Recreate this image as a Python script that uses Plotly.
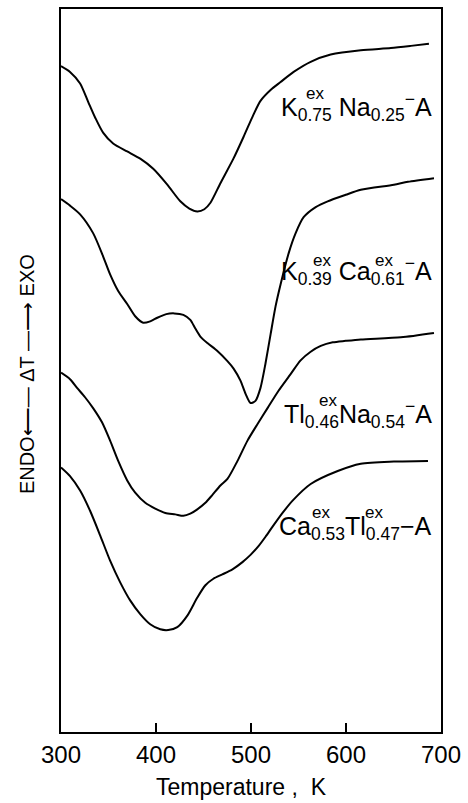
import plotly.graph_objects as go

# DTA traces of ion-exchanged zeolite A samples, temperature in K, ΔT in arbitrary units
t_k_na = [300, 309.5, 320.1, 328.5, 335.9, 344.3, 354.9, 369.7, 383.4, 397.1, 411.9, 425.6,
          435.1, 443.5, 450.9, 457.3, 467.8, 481.5, 492.1, 502.6, 510.0, 520.6, 531.1, 544.9,
          562.8, 583.9, 615.6, 647.2, 668.3, 687.3]
dt_k_na = [92.1, 91.3, 89.7, 87.2, 85.0, 82.9, 81.4, 80.3, 79.3, 77.9, 75.7, 73.4,
           72.4, 72.0, 72.3, 73.2, 75.9, 79.3, 82.3, 85.4, 87.3, 88.8, 89.9, 91.3,
           92.7, 93.7, 94.3, 94.6, 94.9, 95.2]

t_k_ca = [300, 309.5, 320.1, 333.8, 344.3, 351.7, 360.2, 369.7, 378.1, 386.5, 393.9, 401.4,
          410.8, 419.3, 428.8, 436.1, 441.4, 446.7, 454.1, 464.6, 475.2, 481.5, 488.9, 494.2,
          499.5, 504.7, 510.0, 515.3, 520.6, 525.9, 531.1, 539.6, 547.0, 555.4, 568.1, 580.7,
          599.7, 615.6, 650.4, 665.2, 692.6]
dt_k_ca = [73.7, 72.8, 71.6, 69.0, 65.8, 63.3, 61.0, 59.2, 57.5, 56.6, 56.8, 57.3,
           57.8, 57.9, 57.7, 57.0, 55.8, 54.7, 53.8, 52.7, 51.3, 50.3, 48.6, 46.8,
           45.5, 45.8, 47.6, 51.0, 55.0, 58.9, 61.9, 66.2, 69.0, 71.2, 72.6, 73.4,
           74.3, 75.0, 75.7, 76.1, 76.6]

t_tl_na = [300, 309.5, 316.9, 325.3, 333.8, 343.3, 351.7, 360.2, 369.7, 378.1, 388.7, 399.2,
           409.8, 420.3, 428.8, 436.1, 443.5, 452.0, 459.4, 467.8, 475.2, 485.8, 496.3, 506.9,
           517.4, 529.0, 541.7, 552.2, 562.8, 573.4, 586.1, 599.7, 615.6, 657.8, 692.6]
dt_tl_na = [49.7, 48.8, 47.6, 46.3, 44.8, 42.8, 40.3, 37.5, 34.8, 33.1, 31.7, 30.9,
            30.3, 30.1, 29.9, 30.2, 30.8, 31.7, 32.8, 34.1, 35.0, 37.5, 40.3, 42.6,
            44.8, 47.2, 49.5, 51.4, 52.6, 53.4, 53.9, 54.1, 54.3, 54.6, 55.2]

t_ca_tl = [300, 309.5, 320.1, 330.6, 341.2, 351.7, 362.3, 372.8, 383.4, 393.9, 404.5, 412.9,
           422.4, 433.0, 443.5, 452.0, 460.4, 469.9, 480.5, 491.0, 499.5, 507.9, 515.3, 522.7,
           533.2, 543.8, 562.8, 591.3, 615.6, 650.4, 686.3]
dt_ca_tl = [36.6, 35.4, 33.4, 30.6, 27.2, 23.7, 20.7, 18.2, 16.3, 14.9, 14.2, 14.1,
            14.5, 16.1, 18.6, 20.3, 21.2, 21.8, 22.5, 23.5, 24.5, 25.7, 27.0, 28.4,
            30.3, 32.0, 34.3, 36.1, 37.1, 37.4, 37.5]

x_ticks = [300, 400, 500, 600, 700]

# sample labels: (text, x, y) and the "ex" marks written above the exchanged cations
labels = [
    ("K<sub>0.75</sub> Na<sub>0.25</sub><sup>−</sup>A", 692.6, 86.5),
    ("K<sub>0.39</sub> Ca<sub>0.61</sub><sup>−</sup>A", 692.6, 63.7),
    ("Tl<sub>0.46</sub>Na<sub>0.54</sub><sup>−</sup>A", 692.6, 44.0),
    ("Ca<sub>0.53</sub>Tl<sub>0.47</sub>−A", 692.6, 28.2),
]
ex_marks = [(555.4, 88.3), (562.8, 65.2), (628.3, 65.2), (569.1, 45.8),
            (561.7, 30.3), (617.7, 30.3)]

LABEL_FONT = "Liberation Sans Narrow, Liberation Sans, Arial, sans-serif"
AXIS_FONT = "Liberation Sans, Arial, sans-serif"

fig = go.Figure()
for xs, ys in [(t_k_na, dt_k_na), (t_k_ca, dt_k_ca), (t_tl_na, dt_tl_na), (t_ca_tl, dt_ca_tl)]:
    fig.add_trace(go.Scatter(x=xs, y=ys, mode="lines",
                             line=dict(color="black", width=2, shape="spline", smoothing=0.7),
                             showlegend=False, hoverinfo="skip"))

for text, x, y in labels:
    fig.add_annotation(x=x, y=y, text=text, showarrow=False, xanchor="right", yanchor="middle",
                       font=dict(family=LABEL_FONT, size=25, color="black"))
for x, y in ex_marks:
    fig.add_annotation(x=x, y=y, text="ex", showarrow=False, xanchor="left", yanchor="middle",
                       font=dict(family=LABEL_FONT, size=17, color="black"))

fig.add_annotation(x=-0.0895, y=0.495, xref="paper", yref="paper", text="ENDO⟵— ΔT —⟶ EXO",
                   showarrow=False, textangle=-90, xanchor="center", yanchor="middle",
                   font=dict(family=AXIS_FONT, size=20, color="black"))
fig.add_annotation(x=0.476, y=-0.0765, xref="paper", yref="paper", text="Temperature ,  K",
                   showarrow=False, xanchor="center", yanchor="middle",
                   font=dict(family=AXIS_FONT, size=23, color="black"))

fig.update_xaxes(range=[300, 700], tickvals=x_ticks, ticks="inside", ticklen=9, tickwidth=1.5,
                 tickcolor="black", showline=True, linecolor="black", linewidth=2, mirror=True,
                 showgrid=False, zeroline=False,
                 tickfont=dict(family=AXIS_FONT, size=24, color="black"))
fig.update_yaxes(range=[0, 100], showticklabels=False, ticks="", showline=True, linecolor="black",
                 linewidth=2, mirror=True, showgrid=False, zeroline=False)

fig.update_layout(width=468, height=803, margin=dict(l=61, r=27, t=7, b=71),
                  plot_bgcolor="white", paper_bgcolor="white")

fig.write_html("out.html")
